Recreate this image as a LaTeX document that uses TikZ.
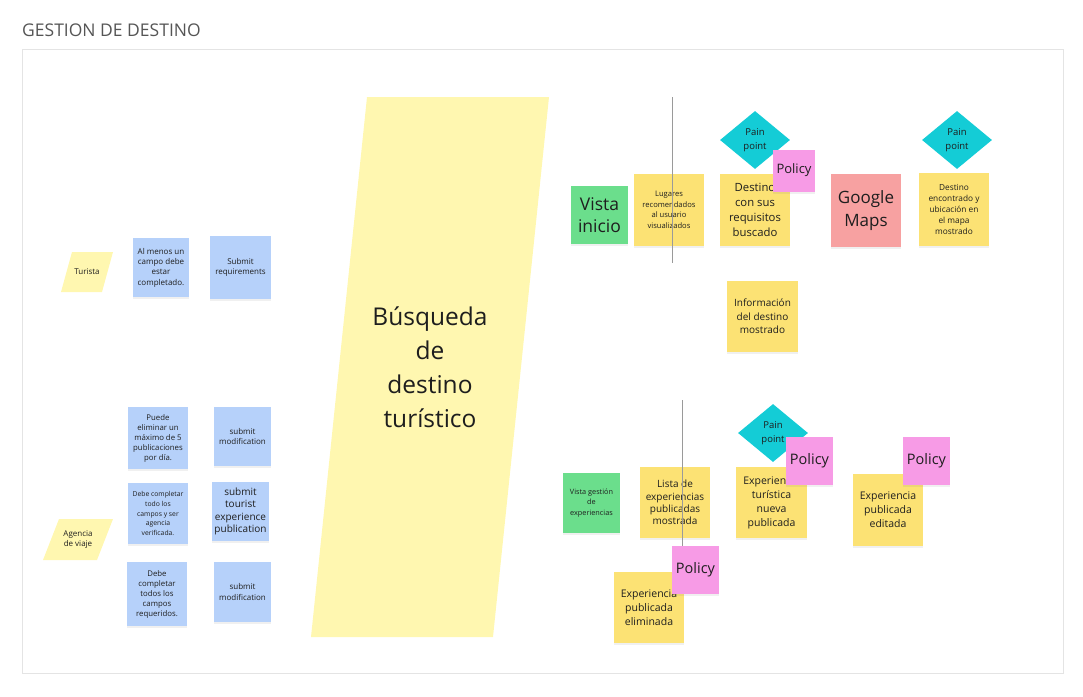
\documentclass[tikz,border=0pt]{standalone}
\usepackage{fontspec}
\setmainfont{Open Sans}
\usetikzlibrary{shadows,shapes.geometric}
\definecolor{stkyellow}{HTML}{FCE274}
\definecolor{bigyellow}{HTML}{FFF7B0}
\definecolor{stkblue}{HTML}{B6D1FA}
\definecolor{stkgreen}{HTML}{6BDE8C}
\definecolor{stkpink}{HTML}{F79BE6}
\definecolor{stkcyan}{HTML}{14CCD6}
\definecolor{stkred}{HTML}{F7A1A1}
\definecolor{txt}{HTML}{1E1E1E}
\definecolor{framegray}{HTML}{E4E4E4}
\definecolor{titlegray}{HTML}{555555}
\definecolor{linegray}{HTML}{9A9A9A}
\newcommand{\fsz}[2]{\fontsize{#1}{#2}\selectfont}
\begin{document}
\begin{tikzpicture}[x=1pt,y=-1pt,
  sticky/.style={rectangle, inner sep=0pt, align=center, text=txt,
    drop shadow={shadow xshift=0pt, shadow yshift=-2pt, opacity=0.12}},
  yel/.style={sticky, fill=stkyellow},
  blu/.style={sticky, fill=stkblue},
  grn/.style={sticky, fill=stkgreen},
  pnk/.style={sticky, fill=stkpink, minimum width=47pt, minimum height=48pt, font=\fsz{14.5}{17}},
  painpt/.style={diamond, fill=stkcyan, inner sep=0pt, minimum width=70pt, minimum height=58pt, align=center, text=txt, font=\fsz{9.5}{13.5}},
  vline/.style={draw=linegray, line width=0.9pt}
]
\useasboundingbox (0,0) rectangle (1083,696);
% title and frame
\node[anchor=west, text=titlegray, font=\fsz{17.5}{20}, inner sep=0pt] (title) at (22,30) {GESTION DE DESTINO};
\draw[draw=framegray, line width=1pt] (22,49) rectangle (1063,673);

% big parallelogram
\fill[bigyellow] (367,97) -- (549,97) -- (493,637) -- (311,637) -- cycle;
\node[align=center, text=txt, font=\fsz{24.5}{34}] (busq) at (430,367) {Búsqueda\\de\\destino\\turístico};

% actor parallelograms
\fill[bigyellow] (72,252) -- (113,252) -- (102,292) -- (61,292) -- cycle;
\node[text=txt, font=\fsz{8}{10}] (turista) at (87,272) {Turista};
\fill[bigyellow] (59,519) -- (113,519) -- (97,560) -- (43,560) -- cycle;
\node[align=center, text=txt, font=\fsz{8}{10.3}] (agencia) at (78,539.5) {Agencia\\de viaje};

% blue stickies
\node[blu, minimum width=56pt, minimum height=59pt, font=\fsz{8}{10.3}] (b1) at (161,267.5) {Al menos un\\campo debe\\estar\\completado.};
\node[blu, minimum width=61pt, minimum height=63pt, font=\fsz{8}{10.3}] (b2) at (240.5,267.5) {Submit\\requirements};
\node[blu, minimum width=60pt, minimum height=62pt, font=\fsz{7.8}{10}] (b3) at (158,438) {Puede\\eliminar un\\máximo de 5\\publicaciones\\por día.};
\node[blu, minimum width=57pt, minimum height=59pt, font=\fsz{8}{10.3}] (b4) at (242.5,436.5) {submit\\modification};
\node[blu, minimum width=60pt, minimum height=61pt, font=\fsz{6.8}{9.7}] (b5) at (158,513.5) {Debe completar\\todo los\\campos y ser\\agencia\\verificada.};
\node[blu, minimum width=57pt, minimum height=59pt, font=\fsz{10}{12.3}] (b6) at (240.5,511.5) {submit\\tourist\\experience\\publication};
\node[blu, minimum width=60pt, minimum height=64pt, font=\fsz{7.8}{10}] (b7) at (157,594) {Debe\\completar\\todos los\\campos\\requeridos.};
\node[blu, minimum width=57pt, minimum height=60pt, font=\fsz{8}{10.3}] (b8) at (242.5,592) {submit\\modification};

% top right group
\node[grn, minimum width=57pt, minimum height=58pt, font=\fsz{17.5}{22.5}] (vistaini) at (599.5,215) {Vista\\inicio};
\node[yel, minimum width=70pt, minimum height=72pt, font=\fsz{7.6}{10.6}] (lugares) at (669,210) {Lugares\\recomendados\\al usuario\\visualizados};
\coordinate (l1top) at (672,97);
\coordinate (l1bot) at (672,263);
\draw[vline] (l1top) -- (l1bot);
\node[painpt] (pain1) at (755,140) {Pain\\point};
\node[yel, minimum width=70pt, minimum height=72pt, font=\fsz{11.3}{15}] (dest1) at (755,210) {Destino\\con sus\\requisitos\\buscado};
\node[pnk, minimum width=42pt, minimum height=42pt, font=\fsz{13}{16}] (pol1) at (794,170.5) {Policy};
\node[sticky, fill=stkred, minimum width=70pt, minimum height=73pt, font=\fsz{17}{22.5}] (gmaps) at (866,210.5) {Google\\Maps};
\node[painpt] (pain2) at (957,140) {Pain\\point};
\node[yel, minimum width=70pt, minimum height=73pt, font=\fsz{8.3}{11}] (dest2) at (954,209.5) {Destino\\encontrado y\\ubicación en\\el mapa\\mostrado};
\node[yel, minimum width=71pt, minimum height=71pt, font=\fsz{10}{13.5}] (info) at (762.5,316.5) {Información\\del destino\\mostrado};

% bottom right group
\node[grn, minimum width=57pt, minimum height=60pt, font=\fsz{7.3}{10.5}] (vistages) at (591.5,503) {Vista gestión\\de\\experiencias};
\node[yel, minimum width=70pt, minimum height=71pt, font=\fsz{10}{12.3}] (lista) at (675,502.5) {Lista de\\experiencias\\publicadas\\mostrada};
\node[yel, minimum width=70pt, minimum height=71pt, font=\fsz{10.5}{14}] (elim) at (649,607.5) {Experiencia\\publicada\\eliminada};
\coordinate (l2top) at (682,400);
\coordinate (l2bot) at (682,546);
\draw[vline] (l2top) -- (l2bot);
\node[pnk] (pol2) at (695.5,570) {Policy};
\node[painpt] (pain3) at (773,433) {Pain\\point};
\node[yel, minimum width=71pt, minimum height=71pt, font=\fsz{10.5}{14}] (turis) at (771.5,502.5) {Experiencia\\turística\\nueva\\publicada};
\node[pnk] (pol3) at (809.5,461) {Policy};
\node[yel, minimum width=70pt, minimum height=72pt, font=\fsz{10.5}{14}] (edit) at (888,510) {Experiencia\\publicada\\editada};
\node[pnk] (pol4) at (926.5,461) {Policy};
\end{tikzpicture}
\end{document}
